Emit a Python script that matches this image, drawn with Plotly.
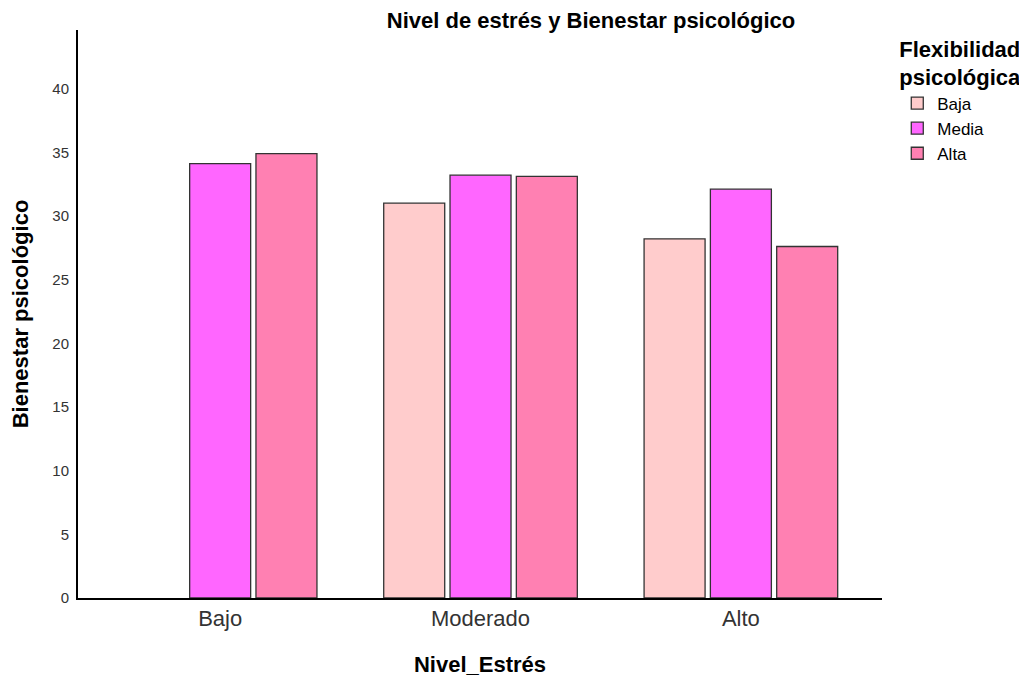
import plotly.graph_objects as go

categories = ["Bajo", "Moderado", "Alto"]
series_names = ["Baja", "Media", "Alta"]
baja = [None, 31.0, 28.2]
media = [34.1, 33.2, 32.1]
alta = [34.9, 33.1, 27.6]
colors = ["#FFCCCC", "#FF66FF", "#FF80B2"]

fig = go.Figure()
for name, vals, col in zip(series_names, [baja, media, alta], colors):
    fig.add_trace(go.Bar(
        x=categories, y=vals, name=name,
        marker=dict(color=col, line=dict(color="#333333", width=1.3)),
    ))

fig.update_layout(
    width=1027, height=678,
    paper_bgcolor="white", plot_bgcolor="white",
    barmode="group", bargap=0.236, bargroupgap=0.08,
    margin=dict(l=70, r=153, t=22, b=88, autoexpand=False),
    font=dict(family="Liberation Sans, Arial, sans-serif", color="#000000"),
    title=dict(text="<b>Nivel de estrés y Bienestar psicológico</b>",
               x=583 / 1027, xanchor="center", y=1 - 12 / 678, yanchor="middle",
               font=dict(size=22, color="#000000")),
    xaxis=dict(
        range=[-0.546, 2.542], automargin=False,
        showline=True, linecolor="#000000", linewidth=2,
        ticks="", showgrid=False,
        tickfont=dict(size=22, color="#333333"),
        title=dict(text="<b>Nivel_Estrés</b>", font=dict(size=22, color="#000000"), standoff=26),
    ),
    yaxis=dict(
        range=[0, 44.6], automargin=False,
        tickvals=[0, 5, 10, 15, 20, 25, 30, 35, 40],
        showline=True, linecolor="#000000", linewidth=2,
        ticks="", showgrid=False, zeroline=False,
        ticklabelstandoff=4,
        tickfont=dict(size=15, color="#333333"),
        title=dict(text="<b>Bienestar psicológico</b>", font=dict(size=22, color="#000000"), standoff=22),
    ),
    legend=dict(
        x=1.019, y=1.003, xanchor="left", yanchor="top",
        title=dict(text="<b>Flexibilidad<br>psicológica</b>", font=dict(size=22, color="#000000")),
        font=dict(size=17, color="#000000"),
        itemwidth=30, tracegroupgap=0,
    ),
)

fig.write_html("out.html")
